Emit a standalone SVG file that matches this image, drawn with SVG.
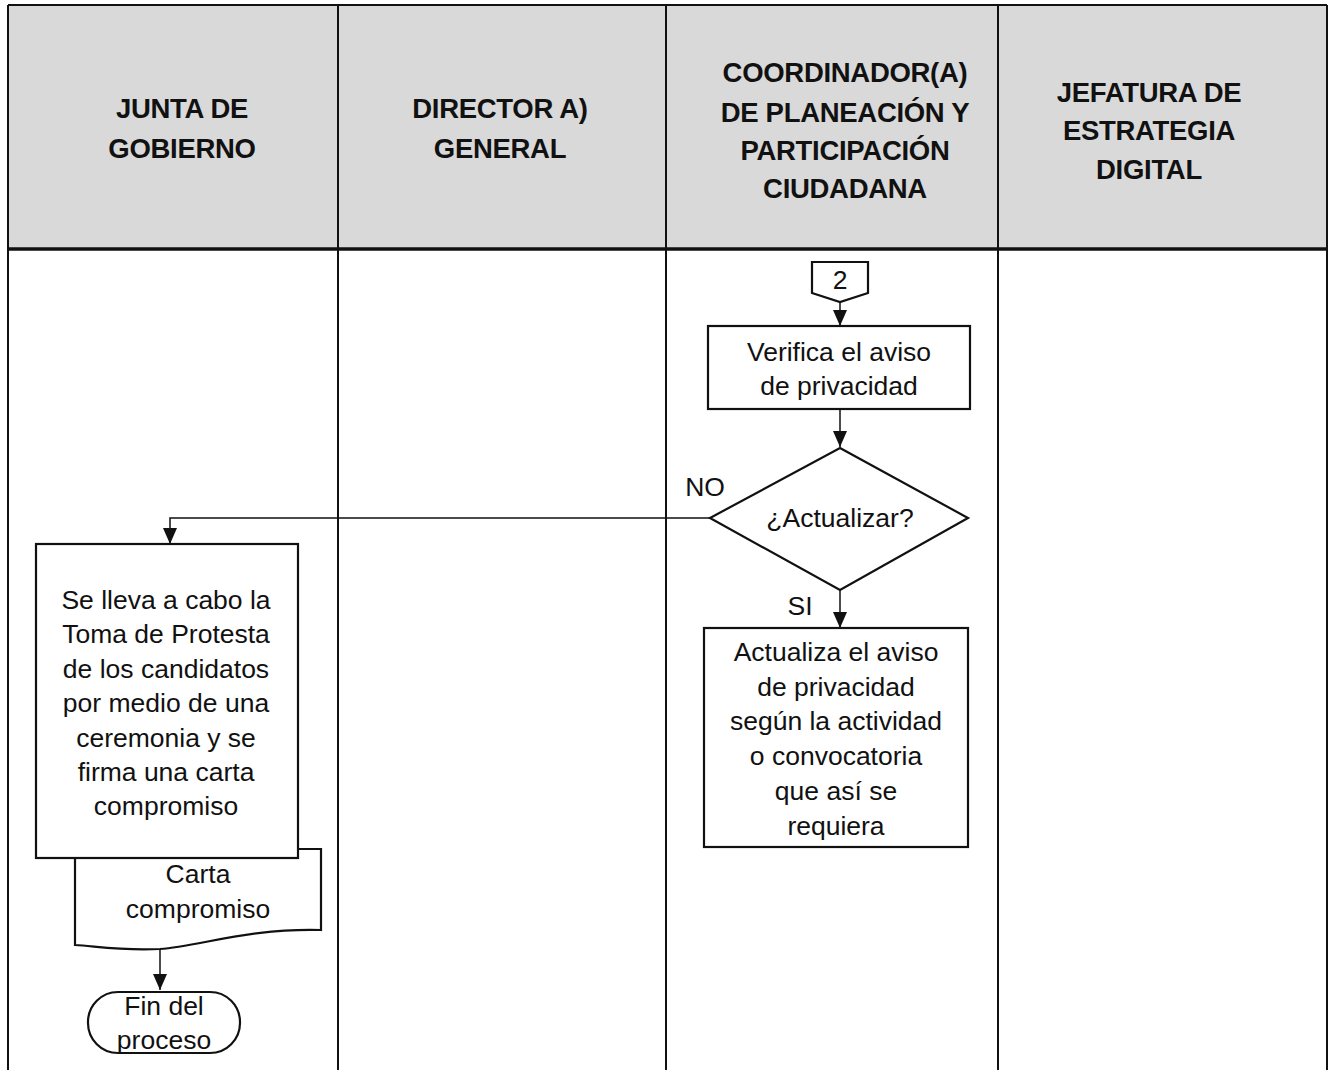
<svg xmlns="http://www.w3.org/2000/svg" width="1332" height="1070" viewBox="0 0 1332 1070">
<style>
.hd{font-family:"Liberation Sans",Arial,sans-serif;font-weight:bold;font-size:27.5px;fill:#111;text-anchor:middle;letter-spacing:-0.3px}
.t{font-family:"Liberation Sans",Arial,sans-serif;font-size:26.5px;fill:#111;text-anchor:middle}
.sh{fill:#fff;stroke:#111;stroke-width:2.2}
.ln{fill:none;stroke:#111;stroke-width:1.5}
.grid{fill:none;stroke:#111;stroke-width:2}
</style>
<defs>
<marker id="ah" viewBox="0 0 16 14" refX="16" refY="7" markerWidth="16" markerHeight="14" markerUnits="userSpaceOnUse" orient="auto">
<path d="M0,0 L16,7 L0,14 z" fill="#111"/>
</marker>
</defs>
<rect width="1332" height="1070" fill="#fff"/>
<g id="lanes">
<rect x="8" y="5" width="1319" height="244" fill="#d9d9d9"/>
<path class="grid" d="M8,5 H1327 M8,5 V1070 M1327,5 V1070 M338,5 V1070 M666,5 V1070 M998,5 V1070"/>
<path d="M8,249 H1327" stroke="#111" stroke-width="3.5"/>
<text class="hd" x="182" y="118">JUNTA DE</text>
<text class="hd" x="182" y="158">GOBIERNO</text>
<text class="hd" x="500" y="118">DIRECTOR A)</text>
<text class="hd" x="500" y="158">GENERAL</text>
<text class="hd" x="845" y="82">COORDINADOR(A)</text>
<text class="hd" x="845" y="122">DE PLANEACIÓN Y</text>
<text class="hd" x="845" y="160">PARTICIPACIÓN</text>
<text class="hd" x="845" y="198">CIUDADANA</text>
<text class="hd" x="1149" y="102">JEFATURA DE</text>
<text class="hd" x="1149" y="140">ESTRATEGIA</text>
<text class="hd" x="1149" y="179">DIGITAL</text>
</g>
<g id="connectors">
<path class="ln" d="M840,302 V326" marker-end="url(#ah)"/>
<path class="ln" d="M840,409 V447" marker-end="url(#ah)"/>
<path class="ln" d="M710,518 H170 V544" marker-end="url(#ah)"/>
<path class="ln" d="M840,590 V628" marker-end="url(#ah)"/>
<path class="ln" d="M160,950 V990" marker-end="url(#ah)"/>
<text class="t" x="705" y="496">NO</text>
<text class="t" x="800" y="615">SI</text>
</g>
<g id="offpage2">
<path class="sh" d="M812,262 H868 V293 L840,302 L812,293 Z"/>
<text class="t" x="840" y="289">2</text>
</g>
<g id="verifica">
<rect class="sh" x="708" y="326" width="262" height="83"/>
<text class="t" x="839" y="361">Verifica el aviso</text>
<text class="t" x="839" y="395">de privacidad</text>
</g>
<g id="decision">
<path class="sh" d="M840,448 L968,518 L840,590 L710,518 Z"/>
<text class="t" x="840" y="527">¿Actualizar?</text>
</g>
<g id="actualiza">
<rect class="sh" x="704" y="628" width="264" height="219"/>
<text class="t" x="836" y="661">Actualiza el aviso</text>
<text class="t" x="836" y="696">de privacidad</text>
<text class="t" x="836" y="730">según la actividad</text>
<text class="t" x="836" y="765">o convocatoria</text>
<text class="t" x="836" y="800">que así se</text>
<text class="t" x="836" y="835">requiera</text>
</g>
<g id="documento">
<path class="sh" d="M75,849 H321 V930 C250,928 200,946 160,949 C120,951 95,946 75,945 Z"/>
<text class="t" x="198" y="883">Carta</text>
<text class="t" x="198" y="918">compromiso</text>
</g>
<g id="toma">
<rect class="sh" x="36" y="544" width="262" height="314"/>
<text class="t" x="166" y="609">Se lleva a cabo la</text>
<text class="t" x="166" y="643">Toma de Protesta</text>
<text class="t" x="166" y="678">de los candidatos</text>
<text class="t" x="166" y="712">por medio de una</text>
<text class="t" x="166" y="747">ceremonia y se</text>
<text class="t" x="166" y="781">firma una carta</text>
<text class="t" x="166" y="815">compromiso</text>
</g>
<g id="fin">
<rect class="sh" x="88" y="992" width="152" height="61" rx="30" ry="30"/>
<text class="t" x="164" y="1015">Fin del</text>
<text class="t" x="164" y="1049">proceso</text>
</g>
</svg>
